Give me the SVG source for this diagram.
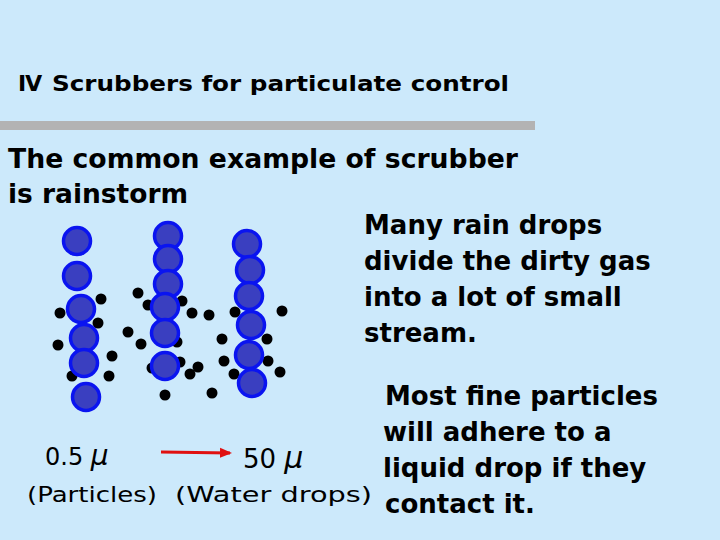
<svg xmlns="http://www.w3.org/2000/svg" width="720" height="540" viewBox="0 0 720 540">
<style>
text{font-family:"DejaVu Sans",sans-serif;font-weight:bold;fill:#000}
.n{font-weight:normal}
.d{fill:#3a3fc0;stroke:#0a14f0;stroke-width:3.5}
.p{fill:#000}
</style>
<defs><marker id="a" markerWidth="12" markerHeight="12" refX="10" refY="6" orient="auto" markerUnits="userSpaceOnUse"><path d="M0,1 L12,6 L0,11 Z" fill="#e01010"/></marker></defs>
<rect width="720" height="540" fill="#cce9fb"/>
<text x="18" y="91" font-size="22">Ⅳ</text>
<text x="52" y="91" font-size="22" textLength="457" lengthAdjust="spacingAndGlyphs">Scrubbers for particulate control</text>
<rect x="0" y="121" width="535" height="9" fill="#b3b3b3"/>
<text x="8" y="168" font-size="26" textLength="510" lengthAdjust="spacingAndGlyphs">The common example of scrubber</text>
<text x="8" y="203" font-size="26" textLength="180" lengthAdjust="spacingAndGlyphs">is rainstorm</text>
<text font-size="26"><tspan x="364" y="234">Many rain drops</tspan><tspan x="364" y="270">divide the dirty gas</tspan><tspan x="364" y="306">into a lot of small</tspan><tspan x="364" y="342">stream.</tspan></text>
<text font-size="26"><tspan x="385" y="405">Most fine particles</tspan><tspan x="383" y="441">will adhere to a</tspan><tspan x="383" y="477">liquid drop if they</tspan><tspan x="385" y="513">contact it.</tspan></text>
<text class="n" x="45" y="465" font-size="24">0.5 <tspan font-size="28" font-style="italic">μ</tspan></text>
<text class="n" x="243" y="468" font-size="26">50 <tspan font-size="30" font-style="italic">μ</tspan></text>
<text class="n" x="27" y="502" font-size="21" textLength="130" lengthAdjust="spacingAndGlyphs">(Particles)</text>
<text class="n" x="175" y="502" font-size="21" textLength="197" lengthAdjust="spacingAndGlyphs">(Water drops)</text>
<g id="connectors"><line x1="161" y1="452" x2="230" y2="453" stroke="#e01010" stroke-width="3" marker-end="url(#a)"/></g>
<g id="particles">
<circle class="p" cx="101" cy="299" r="5.5"/><circle class="p" cx="60" cy="313" r="5.5"/><circle class="p" cx="98" cy="323" r="5.5"/><circle class="p" cx="58" cy="345" r="5.5"/><circle class="p" cx="112" cy="356" r="5.5"/><circle class="p" cx="109" cy="376" r="5.5"/><circle class="p" cx="72" cy="376" r="5.5"/>
<circle class="p" cx="138" cy="293" r="5.5"/><circle class="p" cx="148" cy="305" r="5.5"/><circle class="p" cx="182" cy="301" r="5.5"/><circle class="p" cx="192" cy="313" r="5.5"/><circle class="p" cx="209" cy="315" r="5.5"/><circle class="p" cx="128" cy="332" r="5.5"/><circle class="p" cx="141" cy="344" r="5.5"/><circle class="p" cx="177" cy="342" r="5.5"/><circle class="p" cx="180" cy="362" r="5.5"/><circle class="p" cx="198" cy="367" r="5.5"/><circle class="p" cx="190" cy="374" r="5.5"/><circle class="p" cx="152" cy="368" r="5.5"/><circle class="p" cx="165" cy="395" r="5.5"/><circle class="p" cx="212" cy="393" r="5.5"/>
<circle class="p" cx="235" cy="312" r="5.5"/><circle class="p" cx="282" cy="311" r="5.5"/><circle class="p" cx="222" cy="339" r="5.5"/><circle class="p" cx="267" cy="339" r="5.5"/><circle class="p" cx="224" cy="361" r="5.5"/><circle class="p" cx="268" cy="361" r="5.5"/><circle class="p" cx="234" cy="374" r="5.5"/><circle class="p" cx="280" cy="372" r="5.5"/>
</g>
<g id="drops1"><circle class="d" cx="77" cy="241" r="13.5"/><circle class="d" cx="77" cy="276" r="13.5"/><circle class="d" cx="81" cy="309" r="13.5"/><circle class="d" cx="84" cy="338" r="13.5"/><circle class="d" cx="84" cy="363" r="13.5"/><circle class="d" cx="86" cy="397" r="13.5"/></g>
<g id="drops2"><circle class="d" cx="168" cy="236" r="13.5"/><circle class="d" cx="168" cy="259" r="13.5"/><circle class="d" cx="168" cy="284" r="13.5"/><circle class="d" cx="165" cy="307" r="13.5"/><circle class="d" cx="165" cy="333" r="13.5"/><circle class="d" cx="165" cy="366" r="13.5"/></g>
<g id="drops3"><circle class="d" cx="247" cy="244" r="13.5"/><circle class="d" cx="250" cy="270" r="13.5"/><circle class="d" cx="249" cy="296" r="13.5"/><circle class="d" cx="251" cy="325" r="13.5"/><circle class="d" cx="249" cy="355" r="13.5"/><circle class="d" cx="252" cy="383" r="13.5"/></g>
</svg>
